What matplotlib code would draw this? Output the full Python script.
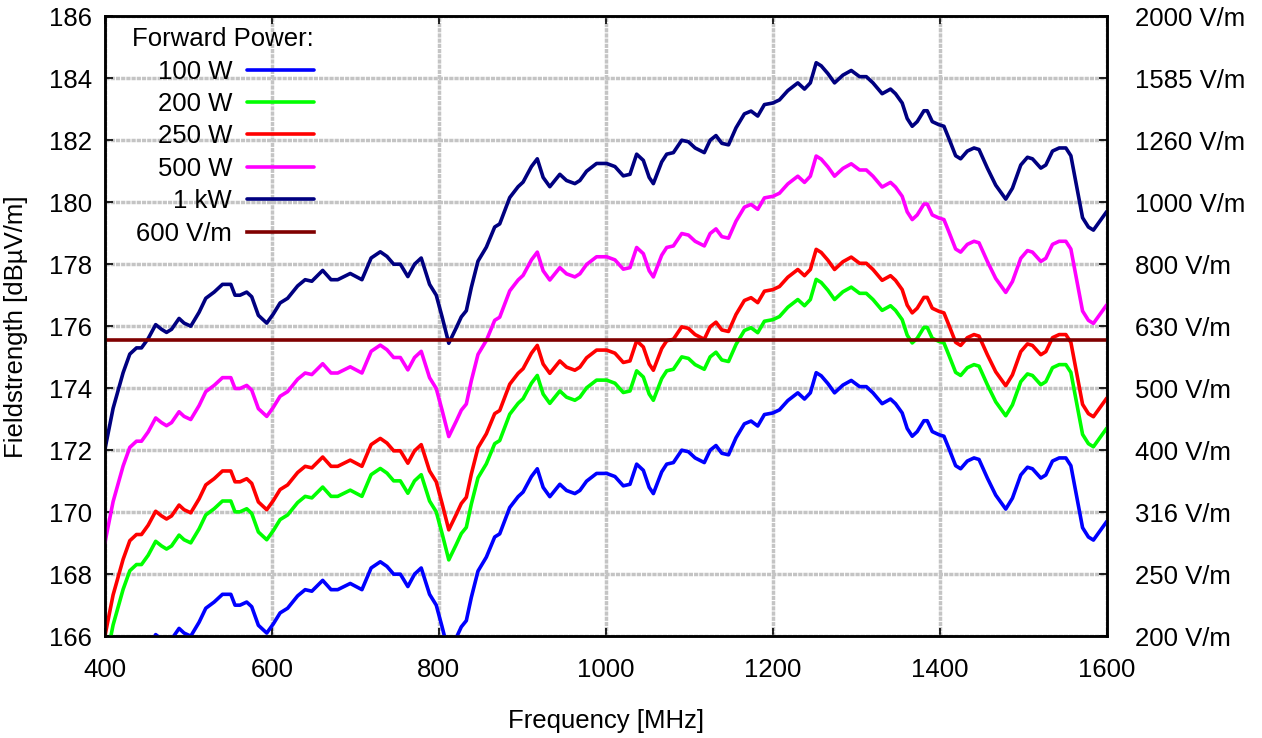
import numpy as np
import matplotlib
matplotlib.use("Agg")
import matplotlib.pyplot as plt

plt.rcParams['font.family'] = ['Liberation Sans', 'DejaVu Sans']

freq_mhz = [400, 410, 422, 430, 438, 444, 452, 461, 468, 474, 480, 489, 495, 503, 513,
            521, 531, 541, 551, 556, 562, 570, 576, 584, 594, 602, 610, 619, 631, 640,
            648, 661, 671, 679, 694, 708, 719, 730, 738, 746, 754, 763, 771, 779, 789,
            797, 804, 812, 821, 827, 833, 839, 847, 857, 867, 873, 885, 895, 901, 911,
            918, 925, 933, 945, 953, 963, 969, 977, 989, 1001, 1011, 1021, 1029, 1037, 1045,
            1052, 1057, 1067, 1073, 1081, 1091, 1099, 1107, 1118, 1125, 1132, 1139, 1147, 1156, 1166,
            1174, 1182, 1190, 1200, 1208, 1218, 1230, 1238, 1245, 1252, 1258, 1266, 1274, 1284, 1294,
            1304, 1312, 1320, 1331, 1341, 1347, 1355, 1361, 1367, 1373, 1381, 1385, 1391, 1399, 1405,
            1411, 1419, 1425, 1433, 1441, 1447, 1457, 1467, 1479, 1487, 1497, 1505, 1511, 1521, 1527,
            1535, 1543, 1551, 1557, 1563, 1571, 1578, 1584, 1592, 1600]
field_1kw = [172.0, 173.35, 174.5, 175.1, 175.3, 175.3, 175.6, 176.05, 175.9, 175.8, 175.9, 176.25, 176.1, 176.0, 176.45,
             176.9, 177.1, 177.35, 177.35, 177.0, 177.0, 177.1, 176.95, 176.35, 176.1, 176.4, 176.75, 176.9, 177.3, 177.5,
             177.45, 177.8, 177.5, 177.5, 177.7, 177.5, 178.2, 178.4, 178.25, 178.0, 178.0, 177.6, 178.0, 178.2, 177.35,
             177.0, 176.3, 175.45, 175.95, 176.3, 176.5, 177.25, 178.1, 178.55, 179.2, 179.3, 180.15, 180.5, 180.65, 181.15,
             181.4, 180.8, 180.5, 180.9, 180.7, 180.6, 180.7, 181.0, 181.25, 181.25, 181.15, 180.85, 180.9, 181.55, 181.35,
             180.8, 180.6, 181.3, 181.55, 181.6, 182.0, 181.95, 181.75, 181.6, 182.0, 182.15, 181.9, 181.85, 182.4, 182.85,
             182.94, 182.78, 183.15, 183.2, 183.3, 183.6, 183.85, 183.65, 183.85, 184.5, 184.4, 184.15, 183.85, 184.1, 184.25,
             184.05, 184.05, 183.85, 183.5, 183.65, 183.5, 183.2, 182.7, 182.45, 182.6, 182.95, 182.95, 182.6, 182.5, 182.45,
             182.05, 181.5, 181.4, 181.65, 181.75, 181.7, 181.1, 180.55, 180.1, 180.45, 181.2, 181.45, 181.4, 181.1, 181.2,
             181.65, 181.75, 181.75, 181.5, 180.65, 179.5, 179.2, 179.1, 179.4, 179.7]

power_labels = ['100 W', '200 W', '250 W', '500 W', '1 kW']
power_w = [100, 200, 250, 500, 1000]
power_colors = ['#0000ff', '#00ff00', '#ff0000', '#ff00ff', '#000080']

limit_vm = 600
limit_label = '600 V/m'

y_ticks = [166, 168, 170, 172, 174, 176, 178, 180, 182, 184, 186]
right_labels = ['200 V/m', '250 V/m', '316 V/m', '400 V/m', '500 V/m', '630 V/m',
                '800 V/m', '1000 V/m', '1260 V/m', '1585 V/m', '2000 V/m']
x_ticks = [400, 600, 800, 1000, 1200, 1400, 1600]

fs = 18.5
fig = plt.figure(figsize=(12.62, 7.38), dpi=100)
ax = fig.add_axes([0.083, 0.138, 0.794, 0.84])

base = np.array(field_1kw)
handles = []
for lab, p, c in zip(power_labels, power_w, power_colors):
    # field strength scales with sqrt(power): 10*log10(P/1kW) dB
    h, = ax.plot(freq_mhz, base + 10 * np.log10(p / 1000.0), color=c, lw=2.6,
                 label=lab, solid_joinstyle='round', solid_capstyle='round', zorder=3)
    handles.append(h)
h = ax.axhline(20 * np.log10(limit_vm) + 120, color='#800000', lw=2.6,
               label=limit_label, zorder=3)
handles.append(h)

ax.set_xlim(400, 1600)
ax.set_ylim(166, 186)
ax.set_xticks(x_ticks)
ax.set_yticks(y_ticks)
ax.grid(True, color='#c4c4c4', lw=2.5, ls=(0, (1.2, 0.3)), zorder=0)
ax.tick_params(direction='in', length=6, width=1.2, labelsize=fs,
               top=True, right=True)
ax.tick_params(axis='x', pad=16)
ax.tick_params(axis='y', pad=9)
for s in ax.spines.values():
    s.set_linewidth(1.8)
ax.set_xlabel('Frequency [MHz]', fontsize=fs, labelpad=19)
ax.set_ylabel('Fieldstrength [dBµV/m]', fontsize=fs, labelpad=15)

ax2 = ax.twinx()
ax2.set_ylim(166, 186)
ax2.set_yticks(y_ticks)
ax2.set_yticklabels(right_labels)
ax2.tick_params(direction='in', length=6, width=1.2, labelsize=fs, pad=20)
for s in ax2.spines.values():
    s.set_linewidth(1.8)

leg = ax.legend(handles=handles, title='Forward Power:', markerfirst=False,
                frameon=False, alignment='right', loc='upper left',
                bbox_to_anchor=(0.02, 0.995), borderaxespad=0, borderpad=0.3,
                fontsize=fs, title_fontsize=fs, labelspacing=0.33,
                handlelength=2.6, handletextpad=0.6)
leg.set_zorder(5)

fig.savefig('out.png', dpi=100)
